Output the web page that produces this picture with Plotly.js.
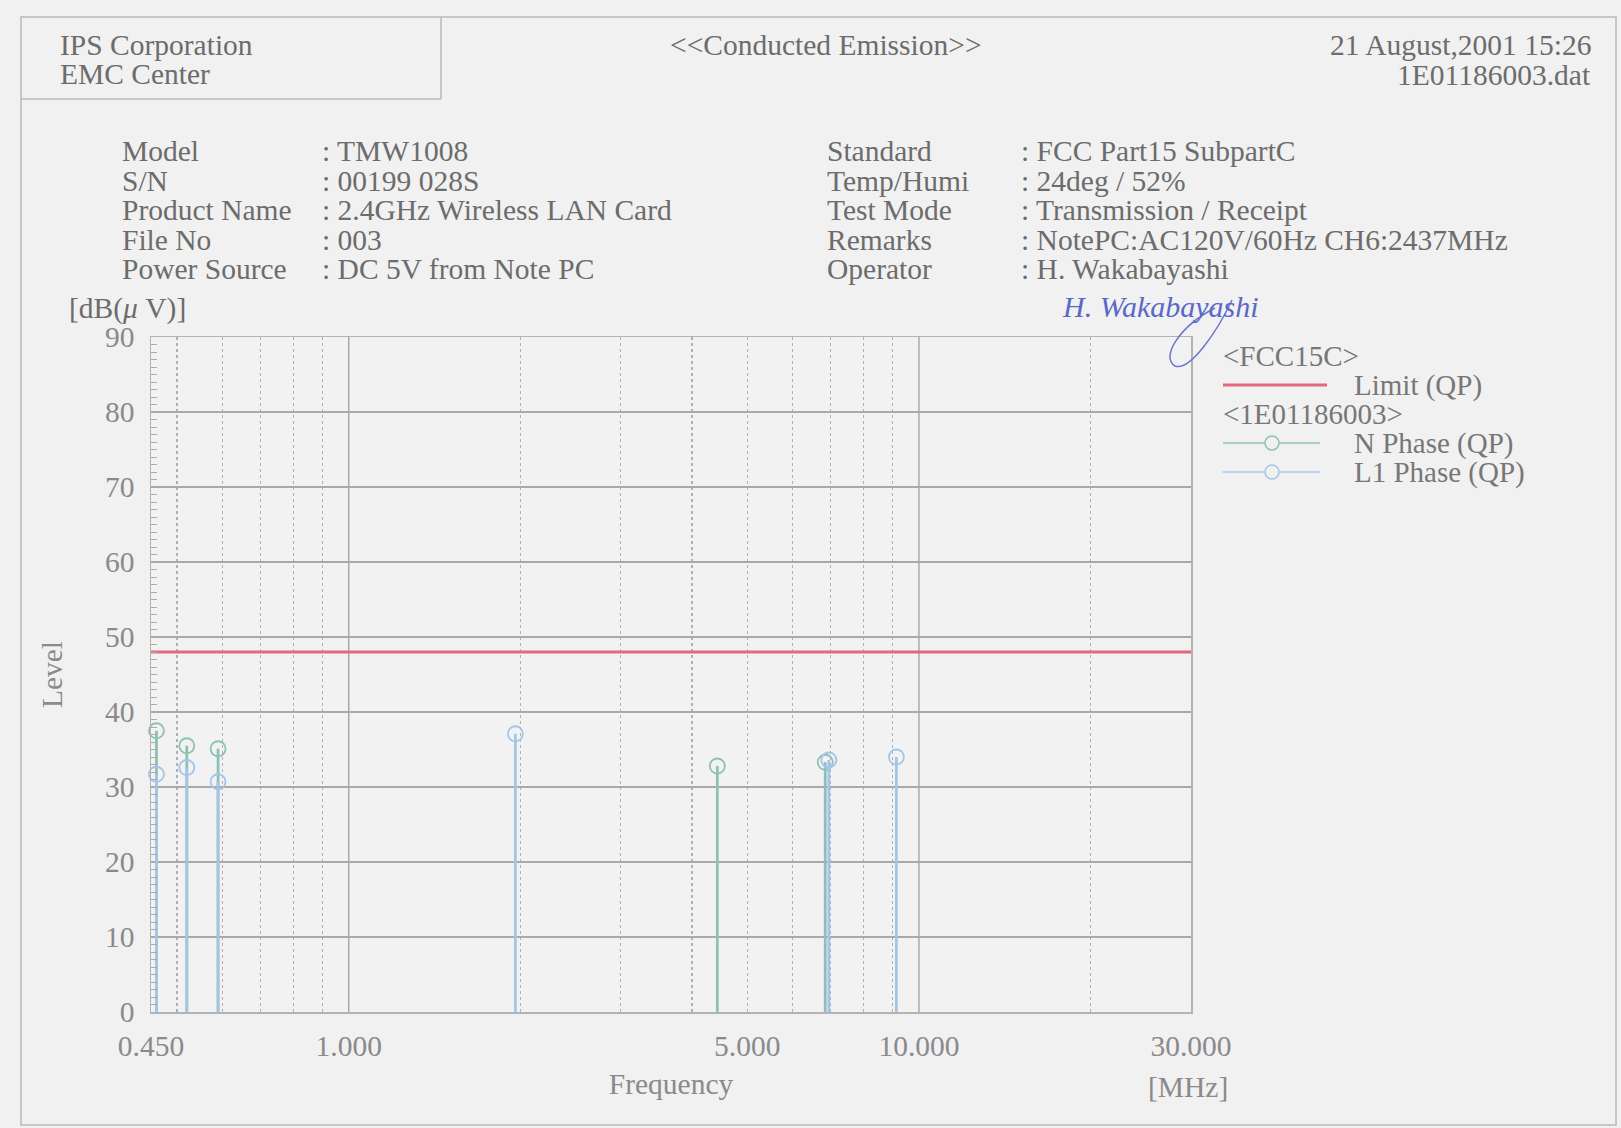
<!DOCTYPE html>
<html>
<head>
<meta charset="utf-8">
<script src="https://cdn.plot.ly/plotly-3.0.1.min.js"></script>
<style>
  html, body { margin: 0; padding: 0; background: #f1f1f1; }
  #chart { width: 1621px; height: 1128px; }
</style>
</head>
<body>
<div id="chart"></div>
<script>
// ---------------- data ----------------
const limitFreq = [0.45, 30];
const limitLevel = [48, 48];

const nFreq  = [0.46, 0.52, 0.59, 4.43, 6.85];
const nLevel = [37.5, 35.5, 35.1, 32.8, 33.3];

const l1Freq  = [0.46, 0.52, 0.59, 1.96, 6.95, 9.13];
const l1Level = [31.7, 32.6, 30.7, 37.1, 33.6, 34.0];

const xTickVals = [0.45, 1, 5, 10, 30];
const xTickText = ['0.450', '1.000', '5.000', '10.000', '30.000'];
const xMinorVals = [0.5, 0.6, 0.7, 0.8, 0.9, 2, 3, 4, 5, 6, 7, 8, 9, 20];
const xMajorGrid = [1, 10];

const infoLeftLabels = ['Model', 'S/N', 'Product Name', 'File No', 'Power Source'];
const infoLeftValues = [': TMW1008', ': 00199 028S', ': 2.4GHz Wireless LAN Card', ': 003', ': DC 5V from Note PC'];
const infoRightLabels = ['Standard', 'Temp/Humi', 'Test Mode', 'Remarks', 'Operator'];
const infoRightValues = [': FCC Part15 SubpartC', ': 24deg / 52%', ': Transmission / Receipt', ': NotePC:AC120V/60Hz CH6:2437MHz', ': H. Wakabayashi'];

// ---------------- styling ----------------
const FONT = 'Liberation Serif, Times New Roman, serif';
const FS = 29.5;
const TXT = '#6c6c6c';
const TICK = '#8a8a8a';
const colN = '#8ec0b6';
const colL1 = '#a3c6e8';
const colLimit = '#e2697b';

const L = 151, R = 1191, T = 337, B = 1012;
const px = x => (x - L) / (R - L);
const py = y => (B - y) / (B - T);

function ann(text, x, y, opts) {
  return Object.assign({
    text: text, xref: 'paper', yref: 'paper', x: px(x), y: py(y),
    xanchor: 'left', yanchor: 'middle', showarrow: false,
    font: { family: FONT, size: FS, color: TXT }
  }, opts || {});
}
function line(x0, y0, x1, y1, color, width) {
  return { type: 'line', xref: 'paper', yref: 'paper',
    x0: px(x0), y0: py(y0), x1: px(x1), y1: py(y1),
    line: { color: color, width: width } };
}

const stems = (freq, level, color, name) => ({
  type: 'scatter', mode: 'markers', name: name, x: freq, y: level,
  marker: { symbol: 'circle-open', size: 15, color: color, line: { width: 1.8, color: color } },
  error_y: { type: 'data', symmetric: false, array: level.map(() => 0), arrayminus: level,
             width: 0, thickness: 2.8, color: color },
  showlegend: false, cliponaxis: false
});

const traces = [
  { type: 'scatter', mode: 'lines', name: 'Limit (QP)', x: limitFreq, y: limitLevel,
    line: { color: colLimit, width: 3 }, showlegend: false },
  stems(nFreq, nLevel, colN, 'N Phase (QP)'),
  stems(l1Freq, l1Level, colL1, 'L1 Phase (QP)')
];

const LEG = { family: FONT, size: 29, color: '#777' };
const annotations = [
  ann('IPS Corporation', 58, 45),
  ann('EMC Center', 58, 74),
  ann('&lt;&lt;Conducted Emission&gt;&gt;', 826, 45, { xanchor: 'center' }),
  ann('21 August,2001 15:26', 1593, 45, { xanchor: 'right' }),
  ann('1E01186003.dat', 1593, 75, { xanchor: 'right' }),
  ann('[dB(<i>μ</i> V)]', 67, 308),
  ann('[MHz]', 1188, 1087, { xanchor: 'center', font: { family: FONT, size: FS, color: TICK } }),
  // legend
  ann('&lt;FCC15C&gt;', 1221, 356, { font: LEG }),
  ann('Limit (QP)', 1352, 385, { font: LEG }),
  ann('&lt;1E01186003&gt;', 1221, 414, { font: LEG }),
  ann('N Phase (QP)', 1352, 443, { font: LEG }),
  ann('L1 Phase (QP)', 1352, 472, { font: LEG }),
  // signature
  ann('<i>H. Wakabayashi</i>', 1160, 306, { xanchor: 'center', font: { family: FONT, size: 30, color: '#5a68c8' } })
];
const rowsY = [151, 181, 210, 240, 269];
infoLeftLabels.forEach((t, i) => annotations.push(ann(t, 120, rowsY[i])));
infoLeftValues.forEach((t, i) => annotations.push(ann(t, 320, rowsY[i])));
infoRightLabels.forEach((t, i) => annotations.push(ann(t, 825, rowsY[i])));
infoRightValues.forEach((t, i) => annotations.push(ann(t, 1019, rowsY[i])));

const shapes = [
  // outer frame and header box
  { type: 'rect', xref: 'paper', yref: 'paper', x0: px(21), y0: py(17), x1: px(1616), y1: py(1125),
    line: { color: '#b9b9b9', width: 1.5 }, layer: 'below' },
  line(21, 99, 441, 99, '#b9b9b9', 1.5),
  line(441, 17, 441, 99, '#b9b9b9', 1.5),
  // legend symbols
  line(1223, 385, 1327, 385, colLimit, 3),
  line(1223, 443, 1320, 443, colN, 1.5),
  line(1223, 472, 1320, 472, colL1, 1.5),
  { type: 'circle', xref: 'paper', yref: 'paper', x0: px(1265), y0: py(450), x1: px(1279), y1: py(436),
    line: { color: colN, width: 1.5 }, fillcolor: '#f1f1f1' },
  { type: 'circle', xref: 'paper', yref: 'paper', x0: px(1265), y0: py(479), x1: px(1279), y1: py(465),
    line: { color: colL1, width: 1.5 }, fillcolor: '#f1f1f1' }
];
// signature loop
(function () {
  const pts = [[1232, 300], [1218, 330], [1190, 372], [1175, 366], [1160, 357], [1180, 326], [1215, 308]];
  let d = 'M ' + px(pts[0][0]) + ',' + py(pts[0][1]);
  d += ' C ' + [pts[1], pts[2], pts[3]].map(p => px(p[0]) + ',' + py(p[1])).join(' ');
  d += ' C ' + [pts[4], pts[5], pts[6]].map(p => px(p[0]) + ',' + py(p[1])).join(' ');
  shapes.push({ type: 'path', xref: 'paper', yref: 'paper', path: d, line: { color: '#6a76cc', width: 1.5 } });
})();
// solid vertical grid lines at decades
xMajorGrid.forEach(v => shapes.push({ type: 'line', xref: 'x', yref: 'paper', x0: v, x1: v, y0: 0, y1: 1,
  line: { color: '#a9a9a9', width: 1.5 }, layer: 'below' }));

const layout = {
  width: 1621, height: 1128,
  paper_bgcolor: '#f1f1f1', plot_bgcolor: '#f2f2f2',
  margin: { l: L, r: 1621 - R, t: T, b: 1128 - B, pad: 0 },
  showlegend: false,
  font: { family: FONT, color: TICK, size: FS },
  xaxis: {
    type: 'log', range: [Math.log10(0.45), Math.log10(30)],
    tickmode: 'array', tickvals: xTickVals, ticktext: xTickText,
    showgrid: false, zeroline: false, ticks: '',
    showline: true, mirror: true, linecolor: '#b3b3b3', linewidth: 1.5,
    ticklabelstandoff: 7,
    tickfont: { family: FONT, size: FS, color: TICK },
    minor: { tickmode: 'array', tickvals: xMinorVals, showgrid: true, griddash: 'dot',
             gridcolor: '#b0b0b0', gridwidth: 1.3, ticks: '' },
    title: { text: 'Frequency', standoff: 12, font: { family: FONT, size: FS, color: TICK } }
  },
  yaxis: {
    range: [0, 90], dtick: 10, tick0: 0,
    showgrid: true, gridcolor: '#a9a9a9', gridwidth: 1.5, zeroline: false, ticks: '',
    showline: true, mirror: true, linecolor: '#b3b3b3', linewidth: 1.5,
    ticklabelstandoff: 9,
    tickfont: { family: FONT, size: FS, color: TICK },
    minor: { dtick: 1, ticks: 'inside', ticklen: 6, tickcolor: '#aaaaaa', tickwidth: 1, showgrid: false },
    title: { text: 'Level', standoff: 34, font: { family: FONT, size: FS, color: TICK } }
  },
  annotations: annotations,
  shapes: shapes
};

Plotly.newPlot('chart', traces, layout, { displayModeBar: false, staticPlot: true });
</script>
</body>
</html>
